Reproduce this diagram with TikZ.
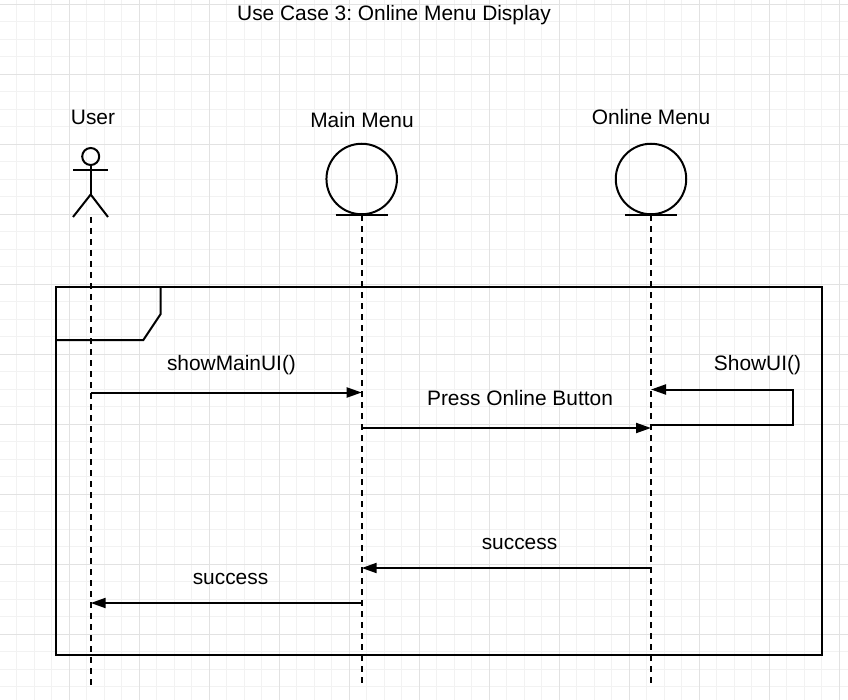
\documentclass[tikz,border=0pt]{standalone}
\usepackage{fontspec}
\setmainfont{Liberation Sans}
\frenchspacing
\usetikzlibrary{arrows.meta}
\definecolor{gridminor}{HTML}{F2F2F2}
\definecolor{gridmajor}{HTML}{E2E2E2}
\tikzset{
  lbl/.style={anchor=base, inner sep=0pt, font=\fontsize{20.9}{24}\selectfont},
  ln/.style={line width=2pt, black},
  lifeline/.style={line width=2pt, dash pattern=on 6pt off 5pt},
  msg/.style={line width=2pt, -{Triangle[length=15pt,width=10pt]}},
  entity/.style={circle, draw, line width=2pt, minimum size=70.5pt, inner sep=0pt},
}
\begin{document}
\begin{tikzpicture}[x=1pt,y=-1pt]
\useasboundingbox (0,0) rectangle (848,700);
\fill[white] (0,0) rectangle (848,700);
% grid
\foreach \i in {0,...,47} \draw[gridminor, line width=1pt] ({16.8+17.5*\i},0) -- ({16.8+17.5*\i},700);
\foreach \i in {0,...,39} \draw[gridminor, line width=1pt] (0,{4.3+17.5*\i}) -- (848,{4.3+17.5*\i});
\foreach \i in {0,...,11} \draw[gridmajor, line width=1pt] ({69.3+70*\i},0) -- ({69.3+70*\i},700);
\foreach \i in {0,...,9} \draw[gridmajor, line width=1pt] (0,{4.3+70*\i}) -- (848,{4.3+70*\i});

% title
\node[lbl] (title) at (394,21) {Use Case 3: Online Menu Display};

% User actor
\node[lbl] (userlbl) at (93,125) {User};
\node[circle, draw, line width=2pt, minimum size=17pt, inner sep=0pt] (head) at (90.7,156.5) {};
\coordinate (hip) at (90.7,194.5);
\coordinate (armL) at (73,170.5);
\coordinate (armR) at (108,170.5);
\coordinate (footL) at (73,217);
\coordinate (footR) at (108,217);
\draw[ln] (head.south) -- (hip);
\draw[ln] (armL) -- (armR);
\draw[ln] (footL) -- (hip) -- (footR);

% entities
\node[lbl] (mmlbl) at (362,128) {Main Menu};
\node[entity] (mm) at (361.7,179) {};
\draw[ln] ([xshift=-26pt]mm.south) -- ([xshift=26pt]mm.south);
\node[lbl] (omlbl) at (651,125) {Online Menu};
\node[entity] (om) at (651,179) {};
\draw[ln] ([xshift=-26pt]om.south) -- ([xshift=26pt]om.south);

% lifelines
\coordinate (uend) at (90.7,685);
\coordinate (mend) at (361.7,685);
\coordinate (oend) at (651,685);
\draw[lifeline] (footL -| head.south) -- (uend);
\draw[lifeline] (mm.south) -- (mend);
\draw[lifeline] (om.south) -- (oend);

% frame
\coordinate (f1) at (55.7,287.5);
\coordinate (f2) at (822.3,655);
\draw[ln] (f1) rectangle (f2);
\coordinate (t1) at (160.7,287.5);
\coordinate (t2) at (160.7,314);
\coordinate (t3) at (143.3,340);
\coordinate (t4) at (55.7,340);
\draw[ln] (t1) -- (t2) -- (t3) -- (t4);

% messages
\coordinate (u1) at (90.7,392.5);
\coordinate (m1) at (361.7,392.5);
\draw[msg] (u1) -- (m1);
\node[lbl] (l1) at (231.5,370) {showMainUI()};

\coordinate (m2) at (361.7,428);
\coordinate (o2) at (651,428);
\draw[msg] (m2) -- (o2);
\node[lbl] (l2) at (520,405) {Press Online Button};

\coordinate (s1) at (651,424.5);
\coordinate (s2) at (792.7,424.5);
\coordinate (s3) at (792.7,389.5);
\coordinate (s4) at (651,389.5);
\draw[msg] (s1) -- (s2) -- (s3) -- (s4);
\node[lbl] (l3) at (757.5,370) {ShowUI()};

\coordinate (o5) at (651,568);
\coordinate (m5) at (361.7,568);
\draw[msg] (o5) -- (m5);
\node[lbl] (l4) at (519.5,549) {success};

\coordinate (m6) at (361.7,603);
\coordinate (u6) at (90.7,603);
\draw[msg] (m6) -- (u6);
\node[lbl] (l5) at (230.5,584) {success};
\end{tikzpicture}
\end{document}
